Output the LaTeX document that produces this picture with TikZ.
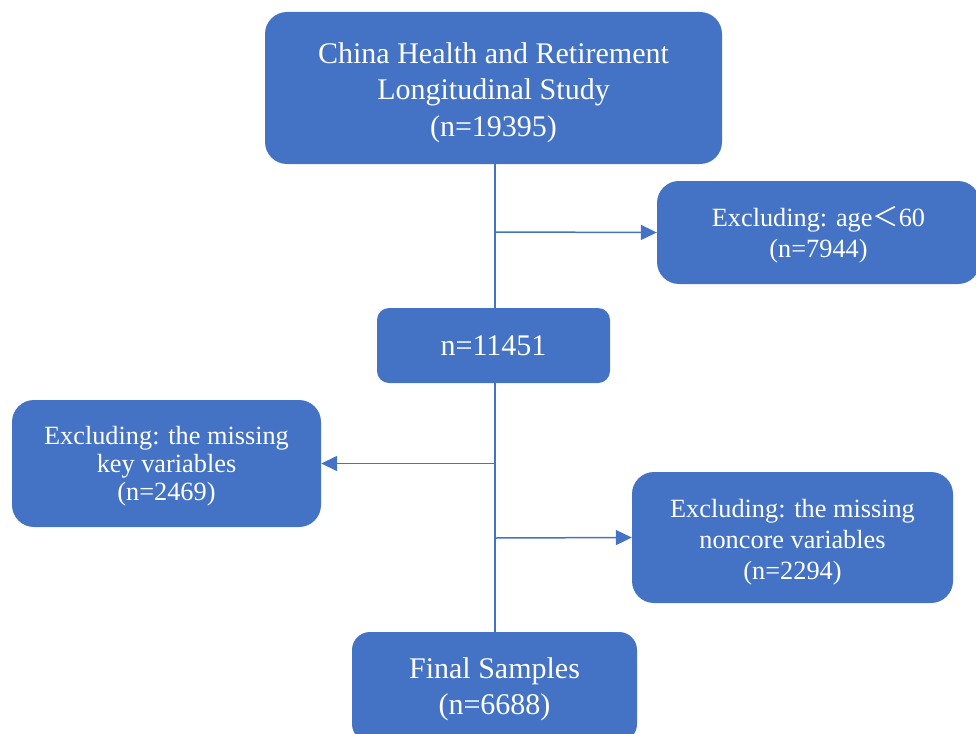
\documentclass[tikz,border=0pt]{standalone}
\usepackage{fontspec}
\setmainfont{Liberation Serif}
\newfontfamily\cjk{Noto Sans CJK SC}
\usetikzlibrary{arrows.meta}
\definecolor{boxblue}{HTML}{4472C4}
\newcommand\upstrut[1]{\rule{0pt}{#1}}
\tikzset{
  box/.style={fill=boxblue, draw=none, rounded corners=22pt, text=white, align=center, inner sep=0pt},
  bigtext/.style={font=\fontsize{30}{36.5}\selectfont},
  smalltext/.style={font=\fontsize{26.3}{31}\selectfont},
  conn/.style={draw=boxblue, line width=1.5pt},
  arr/.style={conn, -{Triangle[length=16pt,width=15pt]}}
}
\begin{document}
\begin{tikzpicture}[x=1pt,y=-1pt]
\useasboundingbox (0,0) rectangle (976,733);
\node[box, bigtext, minimum width=457pt, minimum height=152pt] (top) at (493.5,88) {\upstrut{29.7pt}China Health and Retirement\\Longitudinal Study\\(n=19395)};
\node[box, smalltext, minimum width=323pt, minimum height=103pt] (age) at (818.5,232.5) {\upstrut{25pt}Excluding: age{\cjk ＜}60\\(n=7944)};
\node[box, bigtext, minimum width=233pt, minimum height=75pt, rounded corners=12pt] (n1) at (493.5,345.5) {n=11451};
\node[box, font=\fontsize{26.3}{28}\selectfont, minimum width=309pt, minimum height=127pt] (key) at (166.5,463.5) {\upstrut{24.1pt}Excluding: the missing\\key variables\\(n=2469)};
\node[box, smalltext, minimum width=321pt, minimum height=131pt] (nc) at (792.5,537.5) {\upstrut{27.1pt}Excluding: the missing\\noncore variables\\(n=2294)};
\node[box, bigtext, minimum width=285pt, minimum height=110pt, rounded corners=18pt] (fin) at (494.5,687) {\upstrut{25.7pt}Final Samples\\(n=6688)};
\coordinate (b1) at (495,232);
\coordinate (b2) at (495,463.5);
\coordinate (b3) at (495,538);
\draw[conn] (top.south -| b1) -- (n1.north -| b1);
\draw[conn] (n1.south -| b1) -- (fin.north -| b1);
\draw[arr] (b1) -- (age.west);
\draw[arr] (b2) -- (key.east);
\draw[arr] (b3) -- (nc.west);
\end{tikzpicture}
\end{document}
